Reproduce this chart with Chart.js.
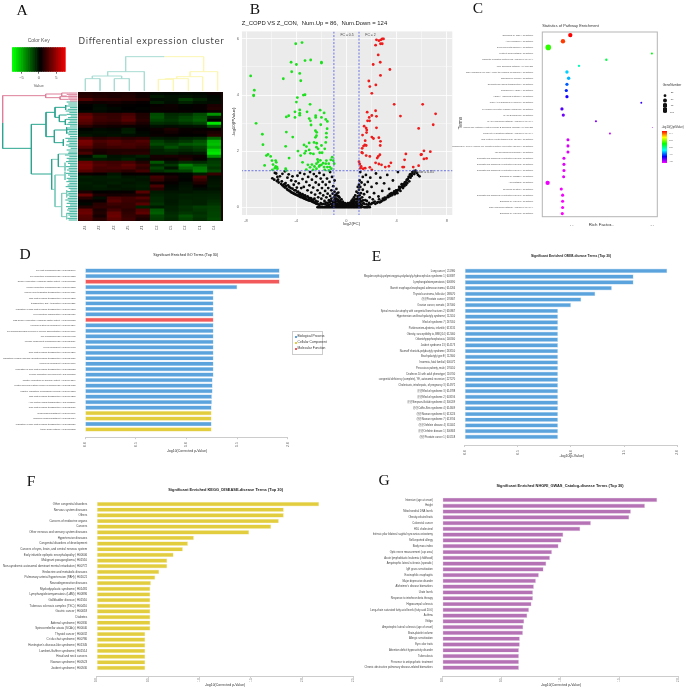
<!DOCTYPE html>
<html><head><meta charset="utf-8">
<script src="https://cdn.jsdelivr.net/npm/chart.js@4/dist/chart.umd.min.js"></script>
<style>
html,body{margin:0;padding:0;background:#fff;width:685px;height:689px;overflow:hidden}
#root{position:relative;width:685px;height:689px;overflow:hidden;filter:blur(.4px)}
canvas{position:absolute}
.t{position:absolute;white-space:nowrap;font-family:"Liberation Sans",sans-serif;color:#333;transform:translate(-50%,-50%);line-height:1}
</style></head><body><div id="root"></div>
<script>
// ---------- DATA ----------
const heatColumns=["Z4","Z2","Z3","Z5","Z1","C3","C5","C2","C1","C4"];
const heatRows=[
[1,.8,.8,.8,.4,-.3,-.2,-.3,-.2,.3],[1.2,1,.8,1,.5,-.8,-.5,-.6,-.4,-.2],[2.4,1.5,1.4,1.2,1,-.4,-.5,-1.8,-1,-.3],[.6,.5,.6,.4,.2,-.9,-.4,-1,-.5,-.4],
[.1,-.3,.2,.1,0,.2,.4,-.1,.2,.8],[0,-.4,-.2,0,-.1,.3,.3,.1,.2,1],[-.2,-.3,-.1,-.1,0,.2,.2,.2,0,.4],[2.6,1.6,1.5,2,.9,-2.2,-1.2,-1.4,-2.2,-4.5],
[3.2,1.9,1.6,2.4,1,-2.4,-1.4,-2,-2.6,-1],[2.8,1.8,1.7,2.6,1.2,-2,-1.6,-2.2,-2.8,.1],[2.4,1.4,1.2,1.6,.8,-1.4,-1.2,-1.6,-2,-7],[1.2,.6,.5,.4,.3,-.5,-.4,-.5,-.6,-2.5],
[-.1,-.3,-.2,-.8,.1,.4,.9,.3,.2,.2],[-.4,-.5,-.4,-.9,-.2,.2,.6,.2,.4,.8],[-.6,-.4,-.5,-.4,-.3,.3,.2,.1,.1,1.2],[2,1.2,1.5,1.2,1.4,-.8,-.6,-1,-1.2,-3],
[3.6,2.2,2.6,2,2.4,-1.8,-1.2,-1.6,-2.4,-5.5],[3.4,1.8,2.4,2.2,2,-2.2,-1.8,-2.6,-2.8,-5.8],[2.6,1.6,1.8,2,1.6,-1.4,-2.4,-1.6,-2,-5],[1.4,.8,1,1,1,-1,-1.4,-1.2,-1.6,-6.5],
[2.2,.6,1,1.2,1.2,-1,-1,-.6,-.8,-7],[-.3,-1.8,-.5,-.6,-1,.6,.8,.6,.4,-4.5],[-.8,-.8,-.6,-1,-.4,.5,.3,.9,.2,-1.5],[3.2,2,1.8,2,1,-2.6,-.8,-1.4,-1.2,-1.8],
[3.6,2.4,2,2.8,1.8,-1.2,-1.6,-3.8,-2.6,-2],[3.4,2,2.2,2.4,1.4,-2,-.6,-3,-3.6,-1.6],[2.6,1.8,1.6,1.2,2,-1.4,-1.8,-2,-3.8,-2.2],[.4,.2,-.6,.2,.2,.2,.2,-.2,-.8,1.6],
[-.9,-.8,-1,-.6,-.7,2,.8,-.2,2.4,-.4],[-.7,-.8,-.8,-.8,-.6,1.6,.5,-.1,1.6,-.5],[-.9,-.7,-.9,-.6,-.8,.4,.2,-.4,.9,-.6],[-.8,-.9,-.6,-.8,-.9,2.2,-.2,-.5,.2,-.7],
[-.7,-.8,-.7,-.6,-.8,1.2,-.3,-.6,-.3,-.5],[.8,.1,.2,.2,2.6,-.8,-.6,-.6,-.8,-.8],[3,.8,.6,.8,1,-1,-.8,-1,-.9,-1],[1.2,-.4,2.2,1.8,2.4,-1.2,-.8,-.9,-1,-1.1],
[.2,.2,2.6,1.8,1.6,-1.2,-.7,-1.1,-1,-1.3],[-.2,1.2,1.8,1.6,2.6,-1.5,-.8,-1.1,-1,-1.5],[1,1.4,1.4,1.6,-1,-.8,-1,-1.4,-1.8,-1.9],[3,.8,2,1.2,2.4,-2.6,-1,-1.3,-1.6,-1.9],
[3.2,1,3,1.4,2.8,-2.8,-1.2,-1.6,-1.4,-2],[2.6,.6,3.2,1.6,1.2,-2,-1.4,-2.4,-1.6,-2],[2.4,1.2,2.8,1.8,.8,-1.8,-1.2,-2,-1.4,-2.2]];
const keyValues=[-7.7,-7.2,-6.7,-6.2,-5.7,-5.2,-4.7,-4.2,-3.7,-3.2,-2.7,-2.2,-1.7,-1.2,-.7,-.2,.3,.8,1.3,1.8,2.3,2.8,3.3,3.8,4.3,4.8,5.3,5.8,6.3,6.8,7.3];
const keyTicks=[-5,0,5];
// dendrogram branches: [height1,leaf1,height2,leaf2]
const rowPink=[[8,287,8,368],[8,287,137,287],[137,282,137,293],[137,282,185,282],[137,293,180,293],[185,279,185,288],[180,290,180,298],[185,279,205,279],[185,288,200,288],[180,290,198,290],[180,298,205,298]];
const rowTeal=[[8,368,8,445],[8,445,94,445],[94,373,94,522],[94,373,138,373],[138,337,138,410],[138,337,165,337],[165,322,165,352],[165,322,197,322],[197,315,197,330],[165,352,178,352],[178,345,178,365],[178,345,200,345],[178,365,196,365],[196,358,196,375],[138,410,163,410],[163,390,163,428],[163,390,200,390],[200,382,200,400],[163,428,190,428],[190,418,190,438],[94,522,155,522],[155,478,155,568],[175,462,175,500]];
const rowLight=[[155,478,175,478],[175,462,205,462],[175,500,195,500],[195,488,195,512],[155,568,165,568],[165,525,165,620],[165,525,195,525],[195,515,195,540],[165,620,185,620],[185,580,185,650],[185,580,200,580],[185,650,200,650],[200,570,200,592],[200,640,200,658]];
const leafY=[306,312,318,323,328,333,338,343,348,353,358,363,368,373,378,384,389,394,399,404,410,415,420,425,430,435,440,445,450,456,460,465,470,475,480,485,490,495,500,505,510,515,520,525,530,535,540,545,550,555,560,565,570,575,580,585,590,595,600,605,610,615,620,625,630,635,640,645,650,655,660];
const leafX=[200,205,197,210,203,197,208,200,212,204,198,209,205,199,210,202,200,207,198,205,210,196,204,200,208,198,205,212,200,206,204,195,208,200,206,198,204,210,196,206,201,208,198,204,210,200,205,199,208,203,197,206,211,200,205,198,208,203,196,206,200,210,198,204,201,208,199,205,210,202,206];
const topTeal=[[377,170,493,170],[377,170,377,215],[323,215,433,215],[433,215,433,272],[323,215,323,228],[277,228,365,228],[277,228,277,236],[256,236,300,236],[256,236,256,272],[300,236,300,272],[365,228,365,236],[343,236,388,236],[343,236,343,272],[388,236,388,272]];
const topYellow=[[493,170,611,170],[611,170,611,215],[570,215,653,215],[653,215,653,272],[570,215,570,230],[530,230,608,230],[608,230,608,272],[530,230,530,236],[497,236,565,236],[565,236,565,272],[497,236,497,238],[475,238,520,238],[475,238,475,272],[520,238,520,272]];

const volcanoGreen=[[-7.63,4.68],[-7.34,4.17],[-7.39,4],[-7.39,3.97],[-7.2,2.99],[-6.7,2.6],[-6.65,2.23],[-6.38,1.84],[-6.25,1.88],[-6.04,1.81],[-6.52,1.49],[-5.93,1.66],[-5.85,1.52],[-5.64,1.66],[-5.59,1.6],[-5.64,1.45],[-5.53,1.43],[-5.7,1.39],[-5.5,1.37],[-5.9,1.33],[-4.84,1.37],[-4.8,1.31],[-5.03,4.58],[-4.41,5.17],[-4.36,4.83],[-4.04,5.83],[-3.54,5.87],[-3.99,5.09],[-3.3,5.23],[-2.85,5.25],[-1.99,5.17],[-1.99,5.14],[-3.72,4.77],[-3.64,4.51],[-3.43,4],[-3.3,4.01],[-3.91,3.91],[-3.99,3.75],[-2.9,3.67],[-4.1,3.4],[-3.72,3.47],[-3.72,3.35],[-3.72,3.28],[-4.1,3.2],[-4.6,3.26],[-4.79,3.22],[-3.14,3.4],[-2.1,3.46],[-1.78,3.36],[-2.97,3.16],[-2.87,3.08],[-2.82,2.93],[-2.45,3.26],[-2.45,3.2],[-1.99,3.2],[-1.65,3.13],[-2.05,2.94],[-1.52,3.06],[-1.54,2.8],[-4.79,2.68],[-4.28,2.5],[-2.47,2.73],[-2.37,2.67],[-2.39,2.55],[-2.47,2.49],[-1.6,2.64],[-1.6,2.49],[-4.84,2.17],[-3.86,2],[-3.38,2.22],[-3.19,2.16],[-2.97,2.29],[-2.58,2.31],[-3.24,2],[-2.97,2.04],[-2.87,1.92],[-2.63,1.9],[-2.37,2.28],[-2.39,2.14],[-2.26,2.08],[-1.99,2.2],[-2.13,1.94],[-1.94,1.94],[-1.65,2.31],[-1.73,2.08],[-3.65,1.84],[-3.33,1.92],[-4.57,1.75],[-3.07,1.51],[-2.75,1.52],[-2.66,1.33],[-2.39,1.55],[-2.26,1.61],[-2.08,1.67],[-1.99,1.51],[-2.13,1.49],[-1.86,1.57],[-1.65,1.55],[-1.78,1.43],[-1.52,1.43],[-1.41,1.55],[-1.25,1.69],[-1.14,1.78],[-1.06,1.66],[-1.33,1.43],[-1.2,1.37],[-.98,1.55],[-1.41,1.31],[-1.73,1.33],[-2.18,1.45],[-2.39,1.37],[-3.2,1.34],[-2.9,1.42],[-2.55,1.45],[-1.6,1.66],[-2.3,1.7],[-3.5,1.6]];
const volcanoRed=[[2.39,5.97],[2.58,5.94],[2.74,5.97],[2.85,6],[2.95,6],[2.71,5.83],[2.85,5.83],[2.32,5.78],[2.53,5.43],[2.69,5.17],[2.13,5.09],[3.46,4.91],[2.71,4.7],[2.34,4.36],[1.78,4.5],[1.86,4.3],[2.02,4.06],[3.8,3.67],[6.07,3.67],[7.1,3.33],[4.3,3.25],[2.32,3.44],[1.65,3.39],[2.02,3.27],[2.39,3.24],[1.81,3.2],[1.68,3.08],[1.84,3.08],[1.41,2.89],[1.57,2.82],[1.62,2.75],[2.39,2.83],[5.75,2.81],[6.91,2.94],[1.6,2.66],[1.28,2.57],[2.02,2.5],[2.15,2.45],[2.58,2.48],[2.71,2.35],[1.49,2.37],[1.46,2.22],[1.57,2.2],[1.36,2.18],[1.25,2.1],[2.69,2.2],[1.22,1.95],[1.28,1.93],[1.57,1.84],[1.86,1.81],[2.66,1.87],[2.53,1.81],[2.45,1.75],[4.73,1.9],[6.17,2.01],[5.98,1.88],[5.93,1.87],[6.68,1.98],[4.63,1.69],[6.38,1.74],[6.17,1.72],[2.32,1.58],[2.58,1.54],[2.79,1.51],[3.09,1.43],[3.38,1.46],[3.54,1.58],[4.47,1.43],[4.57,1.43],[5.32,1.43],[5.75,1.48],[1,1.62],[1.06,1.54],[1.12,1.39],[1.49,1.39],[1.17,1.45],[1.86,1.42],[2.02,1.33],[1.33,1.37]];
const volcanoBlack=[[-5.9,1.03],[-5.75,.98],[-5.6,1.2],[-5.55,.93],[-5.4,.88],[-5.3,1.1],[-5.2,.83],[-5.1,.78],[-5,.74],[-4.9,.7],[-4.85,.86],[-4.75,.66],[-4.7,.62],[-4.6,.6],[-4.55,.72],[-4.5,.57],[-4.42,.54],[-4.35,.52],[-4.3,.66],[-4.25,.5],[-4.18,.48],[-4.1,.46],[-4.05,.6],[-4,.44],[-3.95,.7],[-3.9,.42],[-3.85,.55],[-3.8,.4],[-3.72,.38],[-3.7,.5],[-3.65,.36],[-3.55,.35],[-3.5,.46],[-3.45,.33],[-3.38,.31],[-3.3,.3],[-3.3,.42],[-3.22,.28],[-3.15,.27],[-3.1,.38],[-3.05,.25],[-2.98,.24],[-2.9,.23],[-2.85,.32],[-2.78,.21],[-2.7,.19],[-2.6,.17],[-2.55,.3],[-2.5,.15],[-2.42,.13],[-2.35,.12],[-2.25,.1],[-2.15,.08],
[-2.3,0],[-2.2,0],[-2.1,0],[-2,0],[-1.9,0],[-1.8,0],[-1.7,0],[-1.6,0],[-1.5,0],[-1.4,0],[-1.3,0],[-1.2,0],[-1.1,0],[-1,0],[-.9,0],[-.8,0],[-.7,0],[-.6,0],[-.5,0],[-.4,0],[-.3,0],[-.2,0],[-.1,0],[0,0],[.1,0],[.2,0],[.3,0],[.4,0],[.5,0],[.6,0],[.7,0],[.8,0],[.9,0],[1,0],[1.1,0],[1.2,0],[1.4,0],[1.5,0],[1.6,0],[1.7,0],[1.85,0],
[-5.7,1.22],[-5.5,1.08],[-5.1,1.19],[-4.9,1.28],[-4.7,1.05],[-4.6,1.17],[-4.4,.95],[-4.3,1.1],[-4.2,.8],[-4.05,.92],[-3.9,1.12],[-3.8,.85],[-3.7,1.22],[-3.6,.68],[-3.5,1],[-3.4,.72],[-3.35,1.18],[-3.2,.9],[-3.1,.6],[-3.05,1.08],[-2.95,.78],[-2.9,1.25],[-2.8,.52],[-2.75,.98],[-2.65,.7],[-2.6,1.18],[-2.5,.45],[-2.45,.88],[-2.4,1.1],[-2.3,.6],[-2.25,.35],[-2.2,.8],[-2.15,1.22],[-2.1,.5],[-2.05,1.02],[-2,.3],[-1.95,.68],[-1.9,.9],[-1.85,.42],[-1.8,1.15],[-1.75,.22],[-1.7,.58],[-1.65,.8],[-1.6,.35],[-1.55,1.02],[-1.5,.15],[-1.5,.48],[-1.45,.68],[-1.4,.25],[-1.35,.9],[-1.3,.4],[-1.3,1.25],[-1.25,.12],[-1.2,.6],[-1.2,.3],[-1.15,1.08],[-1.1,.2],[-1.1,.48],[-1.05,.75],[-1,.1],[-1,.35],[-.95,.55],[-.95,.95],[-.9,.22],[-.9,.15],[-.85,.42],[-.85,.07],[-.8,.3],[-.8,.65],[-.75,.12],[-.75,.2],[-.7,.4],[-.7,.05],[-.65,.26],[-.65,.52],[-.6,.1],[-.6,.18],[-.55,.34],[-.5,.06],[-.5,.22],[-.45,.13],[-.4,.28],[-.4,.05],[-.35,.17],[-.3,.09],[-.25,.04],[-.25,.14],[-.2,.06],[-.15,.1],[-.1,.03],[-.05,.07],[.05,.04],[.1,.08],[.15,.03],[.2,.12],[.25,.06],[.3,.16],[.35,.08],[.4,.04],[.4,.22],[.45,.12],[.5,.28],[.5,.07],[.55,.16],[.6,.35],[.6,.1],[.65,.2],[.7,.05],[.7,.42],[.75,.14],[.8,.28],[.8,.55],[.85,.08],[.85,.2],[.9,.38],[.9,.72],[.95,.12],[.95,.5],[1,.25],[1,.62],[1,.8],[1.05,.15],[1.05,.42],[1.05,.95],[1.1,.3],[1.1,.72],[1.1,1.25],[1.15,.1],[1.15,.5],[1.2,.2],[1.2,.88],[1.25,.35],[1.3,.62],[1.3,1.08],[1.35,.14],[1.4,.46],[1.45,.8],[1.5,.25],[1.55,1.15],[1.6,.1],[1.65,.55],[1.7,.9],[1.8,.15],[1.85,.35],[1.9,1.05],[2,.72],[2.05,.14],[2.1,.28],[2.2,.5],[2.3,.12],[2.35,1.2],[2.4,.85],[2.5,.18],[2.55,.38],[2.65,.17],[2.7,1.05],[2.8,.22],[2.85,.58],[2.95,.25],[3,.85],[3.1,.28],[3.2,.34],[3.25,1.15],[3.35,.36],[3.4,.65],[3.5,.4],[3.55,.48],[3.65,.43],[3.7,.95],[3.75,.5],[3.85,.46],[3.9,.52],[4,.58],[4.05,.5],[4.1,1.25],[4.15,.62],[4.25,.66],[4.3,.58],[4.35,.72],[4.45,.75],[4.5,.68],[4.55,.82],[4.6,.75],[4.7,.88],[4.75,.8],[4.8,.95],[4.85,.86],[4.9,1],[5,.92],[5.02,1.08],[5.1,1.05],[5.12,1.18],[5.2,1.12],[5.25,1.25],[5.35,1.28],[5.4,1.18],[5.5,1.3],[5.6,1.22],[5.7,1.15],[5.82,1.1],
[-5.45,.98],[-5.15,.92],[-4.95,.82],[-4.8,.76],[-4.65,.78],[-4.45,.68],[-4.15,.6],[-3.92,.53],[-3.75,.47],[-3.6,.44],[-3.42,.4],[-3.25,.36],[-3,.33],[-2.8,.3],[-2.65,.26],[-2.45,.22],[-2.3,.2],[-2.05,.14],[-1.95,.1],[-1.85,.12],[-1.7,.1],[-1.65,.16],[-1.55,.06],[-1.4,.08],[-1.35,.18],[-1.25,.22],[-1.15,.06],[-1.05,.14],[-.98,.24],[-.92,.42],[-.88,.3],[-.78,.48],[-.72,.26],[-.62,.38],[-.58,.07],[-.48,.14],[-.42,.1],[-.3,.2],[-.22,.12],[-.12,.14],[.02,.12],[.12,.14],[.28,.1],[.38,.14],[.48,.18],[.58,.24],[.68,.28],[.78,.14],[.88,.3],[1.02,.08],[1.12,.22],[1.22,.06],[1.32,.24],[1.42,.12],[1.62,.22],[1.75,.08],[1.92,.1],[2.15,.16],[2.25,.2],[2.42,.15],[2.6,.28],[2.75,.2],[2.9,.3],[3.05,.34],[3.3,.4],[3.45,.46],[3.6,.5],[3.8,.56],[3.95,.6],[4.1,.6],[4.2,.72],[4.4,.82],[4.65,.88],[4.82,.98],[4.95,1.08],[5.05,1.16],[5.3,1.2],[5.45,1.26]];
const fcLines=[-1,1];
const pLine=1.3;

const pathwayTerms=["Signaling by NGF | Reactome","Axon guidance | Reactome","Developmental Biology | Reactome","Platelet homeostasis | Reactome","Ubiquitin mediated proteolysis | KEGG PATHWAY","FGF signaling pathway | PANTHER","NGF signalling via TRKA from the plasma membrane | Reactome","Signaling by EGFR | Reactome","Downstream signal transduction | Reactome","Signaling by VEGF | Reactome","VEGFA-VEGFR2 Pathway | Reactome","PI3K/AKT Signaling in Cancer | Reactome","Fc epsilon receptor (FCERI) signaling | Reactome","DAP12 signaling | Reactome","MAPK signaling pathway | KEGG PATHWAY","Insulin/IGF pathway-protein kinase B signaling cascade | PANTHER","Longevity regulating pathway | KEGG PATHWAY","IRS-related events triggered by IGF1R | Reactome","Signaling by Type 1 Insulin-like Growth Factor 1 Receptor (IGF1R) | Reactome","IGF1R signaling cascade | Reactome","Downstream signaling of activated FGFR3 | Reactome","Downstream signaling of activated FGFR2 | Reactome","Downstream signaling of activated FGFR4 | Reactome","Signaling by ERBB4 | Reactome","Hemostasis | Reactome","Neuronal System | Reactome","Downstream signaling of activated FGFR1 | Reactome","Signaling by FGFR1 | Reactome","NGF signaling pathway | KEGG PATHWAY","Signaling by FGFR3 | Reactome"];
const pathwayRich=[.967,.785,.421,2.99,1.86,1.182,.884,.926,.884,.868,.884,2.727,.76,.793,1.603,3,1.95,.909,.909,.909,.81,.81,.81,.802,.405,.744,.777,.777,.777,.769];
const pathwayGenes=[60,62,100,14,18,18,37,37,33,33,33,12,33,33,15,3,12,30,30,30,30,30,30,30,60,30,30,30,30,30];
const pathwayLogP=[6.4,6.3,5.6,5.5,5.4,5.2,5,4.95,4.8,4.7,4.6,4.55,4.5,4.45,4.4,4.35,4.3,4.28,4.27,4.26,4.25,4.25,4.24,4.24,4.23,4.22,4.22,4.21,4.21,4.2];
const geneLegend=[25,50,75,100];
const richTicks=[1,2,3];

const goTerms=["cell part morphogenesis | GO:0032990","cell projection morphogenesis | GO:0048858","guanyl-nucleotide exchange factor activity | GO:0005085","neuron projection morphogenesis | GO:0048812","nucleic acid-templated transcription | GO:0097659","Ras protein signal transduction | GO:0007265","transcription, DNA-templated | GO:0006351","regulation of Ras protein signal transduction | GO:0046578","cell projection organization | GO:0030030","Ras guanyl-nucleotide exchange factor activity | GO:0005088","nervous system development | GO:0007399","cell morphogenesis involved in neuron differentiation | GO:0048667","cell morphogenesis | GO:0000902","cellular component morphogenesis | GO:0032989","cell development | GO:0048468","Rho protein signal transduction | GO:0007266","regulation of small GTPase mediated signal transduction | GO:0051056","neuron development | GO:0048666","regulation of Rho protein signal transduction | GO:0035023","neuron projection development | GO:0031175","positive regulation of GTPase activity | GO:0043547","central nervous system neuron axonogenesis | GO:0021955","positive regulation of biological process | GO:0048518","Ras protein signal transduction | GO:0007265","ARF protein signal transduction | GO:0032011","Rap protein signal transduction | GO:0032486","Golgi subcompartment | GO:0098791","organelle subcompartment | GO:0031984","regulation of Rac protein signal transduction | GO:0035020","trans-Golgi network | GO:0005802"];
const goValues=[1.918,1.918,1.918,1.5,1.266,1.266,1.266,1.266,1.266,1.266,1.266,1.266,1.266,1.266,1.266,1.266,1.266,1.266,1.266,1.266,1.257,1.257,1.257,1.25,1.25,1.247,1.247,1.247,1.247,1.247];
const goClass=["BP","BP","MF","BP","BP","BP","BP","BP","BP","MF","BP","BP","BP","BP","BP","BP","BP","BP","BP","BP","BP","BP","BP","BP","BP","BP","CC","CC","BP","CC"];
const omimTerms=["Lung cancer | 211980","Megalencephaly-polymicrogyria-polydactyly-hydrocephalus syndrome 1 | 603387","Lymphangioleiomyomatosis | 606690","Barrett esophagus/esophageal adenocarcinoma | 614266","Thyroid carcinoma, follicular | 188470","@@Prostate cancer | 176807","Ovarian cancer, somatic | 167000","Spinal muscular atrophy with congenital bone fractures 2 | 616867","Hypertension and brachydactyly syndrome | 112410","Meckel syndrome 7 | 267010","Parkinsonism-dystonia, infantile | 613135","Obesity, susceptibility to, BMIQ14 | 612460","Odontohypophosphatasia | 146300","Joubert syndrome 13 | 614173","Naumoff short-rib-polydactyly syndrome | 263510","Brachydactyly type E | 112600","Insomnia, fatal familial | 600072","Precocious puberty, male | 176410","Deafness 10 with adult phenotype | 116700","congenital deficiency (complete), YE, autosomal recessive | 227270","Cholestasis, intrahepatic, of pregnancy 3 | 614972","@@Meckel syndrome 3 | 614788","@@Meckel syndrome 2 | 603194","@@Simpson-Golabi syndrome 4 | 300209","@@Coffin-Siris syndrome 4 | 614609","@@Noonan syndrome 6 | 613224","@@Noonan syndrome 7 | 613706","@@Oefelein disease 4 | 611402","@@Oefelein disease 1 | 300803","@@Prostate cancer 1 | 601518"];
const omimValues=[1.903,1.586,1.586,1.382,1.226,1.094,.997,.875,.875,.875,.875,.875,.875,.875,.875,.875,.875,.875,.875,.875,.875,.875,.875,.875,.875,.875,.875,.875,.875,.875];
const keggTerms=["Other congenital disorders","Nervous system diseases","Others","Cancers of endocrine organs","Cancers","Other nervous and sensory system diseases","Hypertensive diseases","Congenital disorders of development","Cancers of eyes, brain, and central nervous system","Early infantile epileptic encephalopathy | H00606","Malignant paraganglioma | H01510","Non-syndromic autosomal dominant mental retardation | H00772","Endocrine and metabolic diseases","Pulmonary arterial hypertension (PAH) | H01621","Neurodegenerative diseases","Myelodysplastic syndrome | H01481","Lymphangioleiomyomatosis (LAM) | H00896","Gallbladder disease | H01510","Tuberous sclerosis complex (TSC) | H00410","Gastric cancer | H00018","Diabetes","Adrenal syndrome | H00330","Spinocerebellar ataxia (SCAs) | H00040","Thyroid cancer | H00032","Cri du chat syndrome | H00780","Huntington's disease-like syndrome | H01345","Lambert-Gaffner syndrome | H01514","Head and neck cancers","Noonan syndrome | H00523","Joubert syndrome | H00530"];
const keggValues=[2.162,1.818,1.818,1.77,1.695,1.481,.943,.885,.836,.746,.684,.684,.606,.567,.525,.519,.519,.519,.519,.519,.519,.519,.519,.47,.47,.47,.47,.47,.47,.47];
const gwasTerms=["Intensive (age at onset)","Height","Mitochondrial DNA levels","Obesity-related traits","Colorectal cancer","HDL cholesterol","Intrinsic pilar bilateral sagittal syncranius osteotomy","Self-reported allergy","Body mass index","Optic nerve measurement (cup area)","Acute lymphoblastic leukemia (childhood)","Amyotrophic lateral sclerosis (sporadic)","IgE grass sensitization","Eosinophilic esophagitis","Major depressive disorder","Alzheimer's disease biomarkers","Urate levels","Response to interferon beta therapy","Hippocampal sclerosis","Long-chain saturated fatty acid levels (fatty acid 20:0)","Asthma","Vitiligo","Amyotrophic lateral sclerosis (age of onset)","Brain-platelet volume","Allergic sensitization","Eye color traits","Attention deficit hyperactivity disorder","Tuberculosis","Presence to antipsychotic treatment","Chronic obstructive pulmonary disease-related biomarkers"];
const gwasValues=[1.819,1.715,1.596,1.582,1.257,1.167,1.023,1.008,.983,.927,.91,.879,.856,.816,.791,.774,.766,.766,.754,.732,.718,.692,.684,.681,.655,.655,.647,.647,.647,.647];
const barTicks=[0,.5,1,1.5,2];
const keggTicks=[0,.5,1,1.5,2,2.5];

// ---------- STYLE / HELPERS ----------
const root=document.getElementById('root');
const FF='"Liberation Sans",sans-serif';
const BLUE='#5ba3dc',RED='#f2595a',YEL='#e2cd3e',PUR='#b573b5';
Chart.defaults.animation=false;
Chart.defaults.font.family=FF;
function txt(s,x,y,size,o={}){
  const d=document.createElement('div');d.className='t';d.textContent=s;
  d.style.left=x+'px';d.style.top=y+'px';d.style.fontSize=size+'px';
  if(o.color)d.style.color=o.color;
  if(o.bold)d.style.fontWeight='bold';
  if(o.font)d.style.fontFamily=o.font;
  if(o.left)d.style.transform='translate(0,-50%)';
  if(o.rot)d.style.transform='translate(-50%,-50%) rotate(-90deg)';
  root.appendChild(d);return d;
}
function mk(box,plot,cfg){
  const c=document.createElement('canvas');
  const W=box.r-box.l,H=box.b-box.t;
  c.width=W;c.height=H;c.style.left=box.l+'px';c.style.top=box.t+'px';c.style.width=W+'px';c.style.height=H+'px';
  root.appendChild(c);
  const o=cfg.options=cfg.options||{};
  o.responsive=false;o.maintainAspectRatio=false;o.animation=false;
  o.plugins=Object.assign({legend:{display:false},tooltip:{enabled:false},title:{display:false}},o.plugins||{});
  const s=o.scales;
  const xv=s.x.display!==false, yv=s.y.display!==false;
  o.layout={padding:{top:plot.t-box.t,right:box.r-plot.r,left:yv?0:plot.l-box.l,bottom:xv?0:box.b-plot.b}};
  if(yv)s.y.afterFit=a=>{a.width=plot.l-box.l};
  if(xv)s.x.afterFit=a=>{a.height=box.b-plot.b};
  return new Chart(c,cfg);
}
const setTicks=list=>(a=>{a.ticks=list.map(value=>({value}))});
function heat(v){const k=Math.min(255,Math.round(Math.abs(v)/7.7*255));return v>=0?`rgb(${k},0,0)`:`rgb(0,${k},0)`}
function segData(segs){const out=[];segs.forEach(s=>{out.push({x:s[0],y:s[1]},{x:s[2],y:s[3]},{x:null,y:null})});return out}
const lineDs=(segs,color,w)=>({data:segData(segs),showLine:true,borderColor:color,borderWidth:w,pointRadius:0,spanGaps:false,fill:false,tension:0});

// ---------- PANEL A ----------
const heatBg=document.createElement('div');
heatBg.style.cssText='position:absolute;left:78px;top:92.3px;width:144.7px;height:128.4px;background:#1a0505';root.appendChild(heatBg);
mk({l:78,t:92,r:223,b:236},{l:78,t:92.3,r:222.7,b:220.7},{
 type:'bar',
 data:{labels:heatRows.map((r,i)=>'r'+i),datasets:heatColumns.map((n,c)=>({label:n,data:heatRows.map(()=>[c,c+1]),backgroundColor:heatRows.map(r=>heat(r[c])),borderWidth:0,barPercentage:1,categoryPercentage:1,grouped:false}))},
 options:{indexAxis:'y',scales:{
  y:{display:false,type:'category'},
  x:{type:'linear',min:0,max:10,afterBuildTicks:setTicks(heatColumns.map((n,i)=>i+.5)),grid:{display:false,drawTicks:false},border:{display:false},
     ticks:{font:{size:3.4},color:'#555',minRotation:90,maxRotation:90,padding:5,autoSkip:false,callback:(v,i)=>heatColumns[i]}}}}
});
mk({l:11,t:47,r:67,b:82},{l:12,t:47.3,r:65.7,b:71.7},{
 type:'bar',
 data:{labels:['key'],datasets:keyValues.map(v=>({data:[[v,v+.52]],backgroundColor:heat(v),borderWidth:0,barPercentage:1,categoryPercentage:1,grouped:false}))},
 options:{indexAxis:'y',scales:{y:{display:false},
  x:{type:'linear',min:-7.7,max:7.7,afterBuildTicks:setTicks(keyTicks),grid:{drawOnChartArea:false,tickLength:2,color:'#666'},border:{display:false},
     ticks:{font:{size:4},color:'#555',padding:2,callback:v=>v<0?'−'+(-v):''+v}}}}
});
txt('Color Key',38.7,40,5,{color:'#555'});
txt('Value',38.7,86,4,{color:'#555'});
txt('Differential expression cluster',151.5,41,8.6,{color:'#444',font:'"DejaVu Sans",sans-serif'}).style.letterSpacing='.55px';
const leafSegs=leafY.map((y,i)=>[leafX[i],y,232,y]);
const pinkLeaves=[[205,279,232,279],[200,283,232,283],[205,288,232,288],[198,290,232,290],[205,294,232,294],[205,298,232,298],[210,303,232,303]];
mk({l:0,t:90,r:78,b:222},{l:0,t:90,r:78,b:221.67},{
 type:'scatter',
 data:{datasets:[lineDs(rowPink,'#dd7f9b',1),lineDs(pinkLeaves,'#dd7f9b',1),lineDs(rowTeal,'#2ba590',1),lineDs(rowLight,'#7fcdbd',1),lineDs(leafSegs,'#1fa88f',.9)]},
 options:{scales:{x:{display:false,type:'linear',min:0,max:234},y:{display:false,type:'linear',min:270,max:665,reverse:true}}}
});
mk({l:75,t:53,r:225,b:93},{l:75,t:53,r:225,b:93},{
 type:'scatter',
 data:{datasets:[lineDs(topTeal,'#a9dcd4',1),lineDs(topYellow,'#fbf6b4',1)]},
 options:{scales:{x:{display:false,type:'linear',min:225,max:675},y:{display:false,type:'linear',min:159,max:279,reverse:true}}}
});

// ---------- PANEL B ----------
const frameBg=(col)=>({id:'bg',beforeDraw(ch){const a=ch.chartArea,g=ch.ctx;g.save();g.fillStyle=col;g.fillRect(a.left,a.top,a.right-a.left,a.bottom-a.top);g.restore()}});
const dashDs=(pts)=>({data:pts,showLine:true,borderColor:'#4a55e0',borderWidth:.8,borderDash:[2,1.5],pointRadius:0,fill:false});
const ptDs=(pts,col)=>({data:pts.map(p=>({x:p[0],y:p[1]})),backgroundColor:col,borderWidth:0,pointRadius:1.4});
mk({l:228,t:26,r:460,b:224},{l:242,t:30,r:452.3,b:215},{
 type:'scatter',
 data:{datasets:[
   dashDs([{x:fcLines[0],y:-.3},{x:fcLines[0],y:6.3}]),
   dashDs([{x:fcLines[1],y:-.3},{x:fcLines[1],y:6.3}]),
   dashDs([{x:-8.4,y:pLine},{x:8.5,y:pLine}]),
   ptDs(volcanoGreen,'#1ee01e'),ptDs(volcanoRed,'#ee1c1c'),ptDs(volcanoBlack,'#0a0a0a')]},
 options:{scales:{
  x:{type:'linear',min:-8.32,max:8.43,afterBuildTicks:setTicks([-8,-6,-4,-2,0,2,4,6,8]),
     grid:{color:'#fff',lineWidth:c=>c.tick&&c.tick.value%4===0?.8:.4,drawTicks:false},border:{display:false},
     ticks:{font:{size:4},color:'#666',padding:3,maxRotation:0,autoSkip:false,callback:v=>v%4===0?''+v:''}},
  y:{type:'linear',min:-.28,max:6.27,afterBuildTicks:setTicks([0,1,2,3,4,5,6]),
     grid:{color:'#fff',lineWidth:c=>c.tick&&c.tick.value%2===0?.8:.4,drawTicks:false},border:{display:false},
     ticks:{font:{size:4},color:'#666',padding:3,autoSkip:false,callback:v=>v%2===0?''+v:''}}}},
 plugins:[frameBg('#ebebeb')]
});
txt('Z_COPD VS Z_CON,  Num.Up = 86,  Num.Down = 124',314.5,24,5.9,{color:'#222'}).style.whiteSpace='pre';
txt('log2(FC)',351.7,224.3,4.4,{color:'#333'});
txt('-log10(PValue)',234,121.7,4.4,{color:'#333',rot:1});
txt('FC = 0.5',347,36,3.4,{color:'#444'});
txt('FC = 2',370.5,36,3.4,{color:'#444'});
txt('pValue = 0.05',423.5,173.3,3.4,{color:'#444'});

// ---------- PANEL C ----------
const hue=v=>`hsl(${Math.max(0,Math.min(300,(6.4-v)/2.2*300))},100%,50%)`;
const geneR=g=>.28*Math.sqrt(g);
const frameBox={id:'box',afterDraw(ch){const a=ch.chartArea,g=ch.ctx;g.save();g.strokeStyle='#b5b5b5';g.lineWidth=1;g.strokeRect(a.left,a.top,a.right-a.left,a.bottom-a.top);g.restore()}};
mk({l:452,t:28,r:665,b:226},{l:542.3,t:30.7,r:657.3,b:216.7},{
 type:'bubble',
 data:{datasets:[{data:pathwayTerms.map((t,i)=>({x:pathwayRich[i],y:t,r:geneR(pathwayGenes[i])})),backgroundColor:pathwayLogP.map(hue),borderWidth:0}]},
 options:{scales:{
  y:{type:'category',labels:pathwayTerms,offset:true,grid:{display:false},border:{display:false},
     ticks:{font:{size:2.35},color:'#555',padding:1,autoSkip:false}},
  x:{type:'linear',min:.273,max:3.124,afterBuildTicks:setTicks(richTicks),grid:{display:false},border:{display:false},
     ticks:{font:{size:2.6},color:'#666',padding:1,maxRotation:0,callback:v=>v.toFixed(1)}}}},
 plugins:[frameBox]
});
txt('Statistics of Pathway Enrichment',570.5,25.8,3.9,{color:'#333'});
txt('Rich Factor',600,225,4.4,{color:'#333'});
txt('Terms',460.7,123,4.6,{color:'#333',rot:1});
txt('GeneNumber',672,85.7,3.1,{color:'#333'});
mk({l:659,t:88,r:671,b:118},{l:659,t:88,r:671,b:118},{
 type:'bubble',
 data:{datasets:[{data:geneLegend.map(g=>({x:0,y:g,r:geneR(g)})),backgroundColor:'#111',borderWidth:0}]},
 options:{scales:{x:{display:false,type:'linear',min:-1,max:1},y:{display:false,type:'linear',min:6,max:120,reverse:true}}}
});
geneLegend.forEach((g,i)=>txt(''+g,672,93+i*6.6,2.4,{color:'#444'}));
txt('-log10(Qpt/Value)',672.7,126.7,2.8,{color:'#333'});
const bar=document.createElement('div');
bar.style.cssText='position:absolute;left:662.3px;top:130.7px;width:5px;height:32.7px;background:linear-gradient(to bottom,#f00,#ff0,#0f0,#0ff,#00f,#f0f)';root.appendChild(bar);
['6.4','5.8','5.2','4.6','4.2'].forEach((s,i)=>txt(s,670.9,133.3+i*6.8,2.3,{color:'#444'}));

// ---------- BAR PANELS ----------
const tint=(c)=>c+'55';
function hbar(box,plot,labels,values,colors,max,ticks,fs,tickPad,tickFs){
 mk(box,plot,{type:'bar',
  data:{labels:labels.concat(['']),datasets:[{data:values,backgroundColor:colors,borderColor:Array.isArray(colors)?colors.map(tint):tint(colors),borderWidth:.7,borderSkipped:false,barThickness:4}]},
  options:{indexAxis:'y',scales:{
   y:{type:'category',grid:{display:false},border:{display:false},ticks:{font:{size:fs},color:'#444',padding:1.5,autoSkip:false}},
   x:{type:'linear',min:0,max:max,afterBuildTicks:setTicks(ticks),grid:{drawOnChartArea:false,tickLength:1.5,color:'#ccc'},border:{color:'#ccc',width:1},
      ticks:{font:{size:tickFs},color:'#666',padding:tickPad,minRotation:90,maxRotation:90,autoSkip:false,callback:v=>v.toFixed(1)}}}}
 });
}
const classCol={BP:BLUE,CC:YEL,MF:RED};
hbar({l:0,t:265,r:300,b:450},{l:85,t:267.5,r:287.7,b:437.7},goTerms,goValues,goClass.map(c=>classCol[c]),2,barTicks,2.3,3,3.4);
txt('Significant Enriched GO Terms (Top 30)',185.7,256,3.7,{color:'#222'});
txt('-log10(Corrected p-Value)',187,452.3,3.5,{color:'#333'});
const lg=document.createElement('div');
lg.style.cssText='position:absolute;left:292px;top:330.7px;width:31px;height:24.3px;border:1px solid #ccc;box-sizing:border-box;background:#fff';root.appendChild(lg);
[['Biological Process',BLUE],['Cellular Component',YEL],['Molecular Function',RED]].forEach((p,i)=>{
 const y=337+i*6,s=document.createElement('div');
 s.style.cssText=`position:absolute;left:294.5px;top:${y-1}px;width:2px;height:2px;background:${p[1]}`;root.appendChild(s);
 txt(p[0],297.5,y,3.3,{left:1,color:'#333'});
});
hbar({l:345,t:265,r:690,b:455},{l:464.7,t:267.4,r:677.3,b:445.5},omimTerms,omimValues,BLUE,2,barTicks,2.55,3,3.4);
txt('Significant Enriched OMIM-disease Terms (Top 30)',571,257,3.35,{color:'#222',bold:1});
txt('-log10(p-Value)',571.7,456.7,3.6,{color:'#333'});
hbar({l:0,t:498,r:365,b:684},{l:96.7,t:500.15,r:353.6,b:676.4},keggTerms,keggValues,YEL,2.5,keggTicks,2.95,.5,2.6);
txt('Significant Enriched KEGG_DISEASE-disease Terms (Top 30)',225.7,489.7,3.95,{color:'#222',bold:1});
txt('-log10(Corrected p-Value)',225,686,3.5,{color:'#333'});
hbar({l:357,t:494,r:690,b:684},{l:442.3,t:496.8,r:678.3,b:676.3},gwasTerms,gwasValues,PUR,2,barTicks,2.65,.5,2.6);
txt('Significant Enriched NHGRI_GWAS_Catalog-disease Terms (Top 30)',560,485.7,3.95,{color:'#222',bold:1});
txt('-log10(Corrected p-Value)',561,685.7,3.5,{color:'#333'});

// ---------- PANEL LETTERS ----------
const L='"Liberation Serif",serif';
[['A',22,10],['B',255,9],['C',478,8],['D',25,254],['E',376.5,255.5],['F',31,481],['G',384,480]].forEach(p=>txt(p[0],p[1],p[2],15.5,{font:L,color:'#111'}));
</script></body></html>
